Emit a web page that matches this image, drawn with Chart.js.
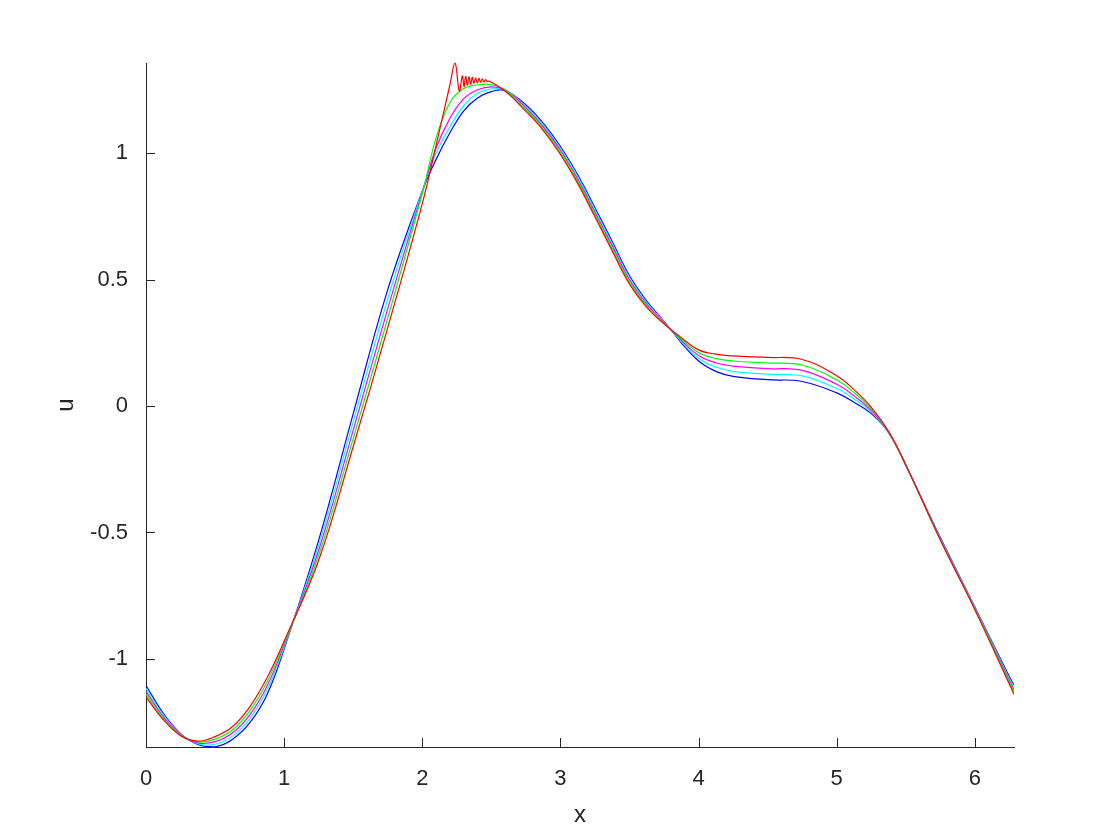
<!DOCTYPE html>
<html lang="en">
<head>
<meta charset="UTF-8">
<title>u over x</title>
<style>
  body { margin: 0; background: #fff; }
  #wrap { width: 1120px; height: 840px; }
</style>
</head>
<body>
<div id="wrap"><canvas id="uChart" width="1120" height="840"></canvas></div>
<script src="https://cdn.jsdelivr.net/npm/chart.js"></script>
<script>
// shared x grid for the four smooth curves
const xs = [0, 0.125, 0.25, 0.375, 0.5, 0.625, 0.75, 0.875, 1.0, 1.25, 1.5, 1.75, 2.0, 2.1, 2.2, 2.3, 2.4, 2.5, 2.6,
            2.75, 2.875, 3.0, 3.125, 3.25, 3.375, 3.5, 3.625, 3.75, 3.875, 4.0, 4.125, 4.25, 4.5, 4.75,
            5.0, 5.125, 5.25, 5.375, 5.5, 5.75, 6.0, 6.25, 6.2832];

const uBlue = [-1.105, -1.215, -1.295, -1.338, -1.347, -1.318, -1.253, -1.142, -0.96, -0.53, -0.03, 0.46, 0.85, 0.975, 1.08, 1.167, 1.218, 1.243, 1.247,
               1.19, 1.118, 1.026, 0.914, 0.784, 0.65, 0.515, 0.415, 0.335, 0.25, 0.178, 0.137, 0.117, 0.104, 0.097,
               0.052, 0.015, -0.03, -0.105, -0.235, -0.52, -0.795, -1.07, -1.103];
const uCyan = [-1.116, -1.221, -1.297, -1.335, -1.337, -1.306, -1.237, -1.125, -0.953, -0.55, -0.063, 0.423, 0.85, 1.0, 1.104, 1.188, 1.236, 1.254, 1.249,
               1.184, 1.111, 1.018, 0.906, 0.775, 0.641, 0.507, 0.409, 0.333, 0.255, 0.189, 0.154, 0.137, 0.126, 0.119,
               0.069, 0.028, -0.024, -0.104, -0.234, -0.523, -0.797, -1.078, -1.112];
const uMagenta = [-1.128, -1.228, -1.299, -1.332, -1.327, -1.293, -1.222, -1.109, -0.945, -0.57, -0.095, 0.385, 0.845, 1.02, 1.137, 1.215, 1.25, 1.262, 1.25,
                  1.178, 1.104, 1.011, 0.897, 0.766, 0.632, 0.499, 0.403, 0.33, 0.26, 0.2, 0.171, 0.158, 0.148, 0.141,
                  0.086, 0.04, -0.018, -0.103, -0.234, -0.525, -0.8, -1.085, -1.122];
const uGreen = [-1.139, -1.234, -1.301, -1.328, -1.317, -1.281, -1.206, -1.092, -0.938, -0.59, -0.128, 0.348, 0.84, 1.06, 1.2, 1.255, 1.27, 1.27, 1.25,
                1.171, 1.097, 1.003, 0.889, 0.757, 0.622, 0.49, 0.396, 0.328, 0.265, 0.211, 0.188, 0.178, 0.17, 0.162,
                0.103, 0.053, -0.011, -0.101, -0.233, -0.528, -0.802, -1.092, -1.131];

// red has its own grid, dense where it oscillates after the spike
const xRed = [0, 0.125, 0.25, 0.375, 0.5, 0.625, 0.75, 0.875, 1.0, 1.25, 1.5, 1.75, 2.0, 2.1, 2.2, 2.237,
              2.268, 2.29, 2.302, 2.314, 2.326, 2.338, 2.35, 2.362, 2.374, 2.386, 2.398, 2.41, 2.422, 2.434, 2.446, 2.458, 2.47, 2.485,
              2.6, 2.75, 2.875, 3.0, 3.125, 3.25, 3.375, 3.5, 3.625, 3.75, 3.875, 4.0, 4.125, 4.25, 4.5, 4.75,
              5.0, 5.125, 5.25, 5.375, 5.5, 5.75, 6.0, 6.25, 6.2832];
const uRed = [-1.15, -1.24, -1.303, -1.325, -1.307, -1.268, -1.19, -1.075, -0.93, -0.61, -0.16, 0.31, 0.8, 1.03, 1.27, 1.356,
              1.245, 1.305, 1.262, 1.303, 1.268, 1.301, 1.272, 1.299, 1.275, 1.297, 1.277, 1.295, 1.279, 1.293, 1.281, 1.29, 1.283, 1.284,
              1.245, 1.165, 1.09, 0.995, 0.88, 0.748, 0.613, 0.482, 0.39, 0.325, 0.27, 0.222, 0.205, 0.198, 0.192, 0.184,
              0.12, 0.065, -0.005, -0.1, -0.232, -0.53, -0.805, -1.1, -1.14];

const xTicks = [0, 1, 2, 3, 4, 5, 6];
const yTicks = [-1, -0.5, 0, 0.5, 1];

const axisColor = '#262626';

function pts(xv, yv) {
    return xv.map((x, i) => ({ x: x, y: yv[i] }));
}

function line(data, color) {
    return { data: data, borderColor: color, borderWidth: 1.2, pointRadius: 0, fill: false, tension: 0.4 };
}

// MATLAB style tick marks pointing into the plot
const innerTicks = {
    id: 'innerTicks',
    afterDatasetsDraw(chart) {
        const { ctx, chartArea: a, scales: { x, y } } = chart;
        ctx.save();
        ctx.strokeStyle = axisColor;
        ctx.lineWidth = 1;
        ctx.beginPath();
        xTicks.forEach(v => {
            const p = Math.round(x.getPixelForValue(v)) + 0.5;
            ctx.moveTo(p, a.bottom);
            ctx.lineTo(p, a.bottom - 9);
        });
        yTicks.forEach(v => {
            const p = Math.round(y.getPixelForValue(v)) + 0.5;
            ctx.moveTo(a.left, p);
            ctx.lineTo(a.left + 9, p);
        });
        ctx.stroke();
        ctx.restore();
    }
};

Chart.defaults.font.family = "'Liberation Sans', Arial, sans-serif";
Chart.defaults.color = axisColor;

new Chart(document.getElementById('uChart'), {
    type: 'line',
    data: {
        datasets: [
            line(pts(xRed, uRed), '#ff0000'),
            line(pts(xs, uGreen), '#00ff00'),
            line(pts(xs, uMagenta), '#ff00ff'),
            line(pts(xs, uCyan), '#00ffff'),
            line(pts(xs, uBlue), '#0000ff')
        ]
    },
    options: {
        responsive: false,
        animation: false,
        events: [],
        layout: { padding: { left: 0, top: 63, right: 106, bottom: 0 } },
        plugins: { legend: { display: false }, tooltip: { enabled: false } },
        scales: {
            x: {
                type: 'linear',
                min: 0,
                max: 6.2832,
                afterBuildTicks: s => { s.ticks = xTicks.map(v => ({ value: v })); },
                afterFit: s => { s.height = 93; },
                grid: { display: false, drawTicks: false },
                border: { display: true, color: axisColor, width: 1 },
                ticks: { font: { size: 22 }, padding: 19, maxRotation: 0, callback: v => String(v) },
                title: { display: true, text: 'x', font: { size: 24 }, padding: { top: 0, bottom: 10 } }
            },
            y: {
                type: 'linear',
                min: -1.348,
                max: 1.356,
                afterBuildTicks: s => { s.ticks = yTicks.map(v => ({ value: v })); },
                afterFit: s => { s.width = 146; },
                grid: { display: false, drawTicks: false },
                border: { display: true, color: axisColor, width: 1 },
                ticks: { font: { size: 22 }, padding: 18, callback: v => String(v) },
                title: { display: true, text: 'u', font: { size: 24 }, padding: { top: 52, bottom: 0 } }
            }
        }
    },
    plugins: [innerTicks]
});
</script>
</body>
</html>
